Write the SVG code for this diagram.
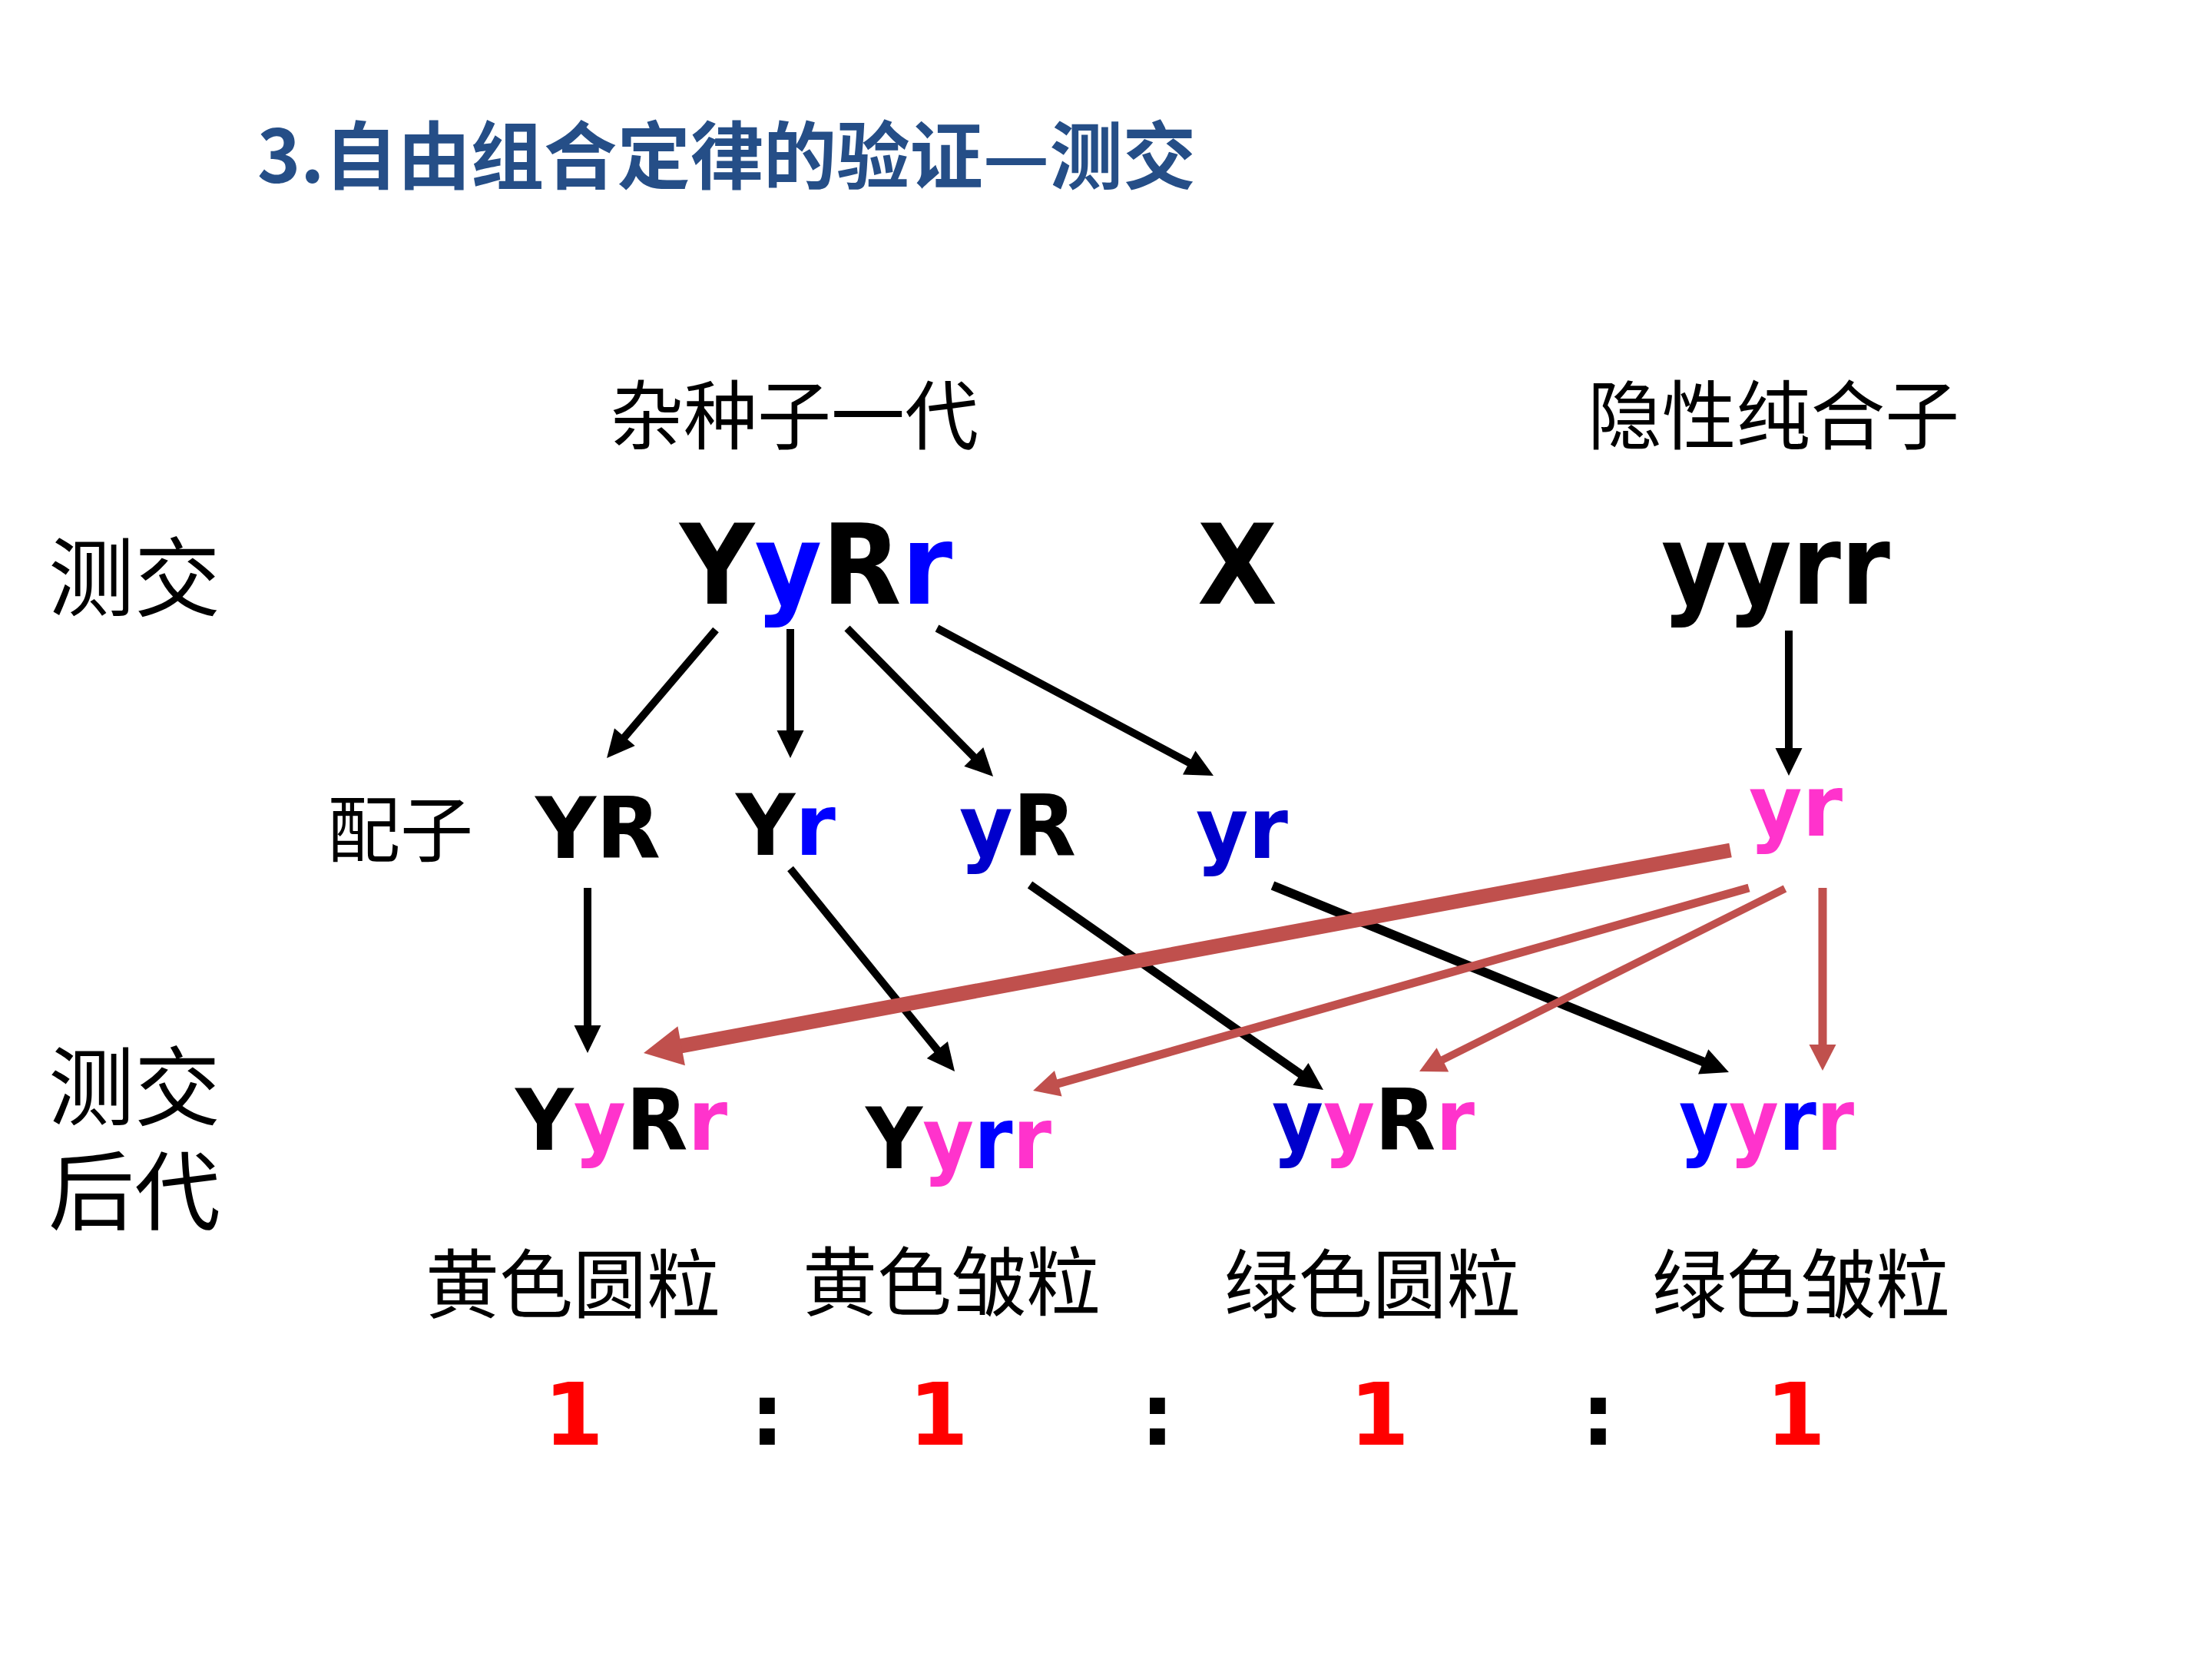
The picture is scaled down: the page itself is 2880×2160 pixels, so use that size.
<svg xmlns="http://www.w3.org/2000/svg" width="2880" height="2160" viewBox="0 0 2880 2160">
<style>
.cjk{font-family:"Noto Sans CJK SC","Noto Sans",sans-serif;fill:#000}
.title{font-family:"Noto Sans CJK SC","Noto Sans",sans-serif;font-weight:700;fill:#254E87}
.g{font-family:"DejaVu Sans","Liberation Sans",sans-serif;font-weight:700;fill:#000}
.big{font-size:145px}
.mid{font-size:110px}
.off{font-size:111px}
.b{fill:#0000FF}
.db{fill:#0000CC}
.p{fill:#FF33CC}
.red{fill:#FF0000}
.k{stroke:#000;fill:none;stroke-linecap:butt}
.rd{stroke:#C0504D;fill:none;stroke-linecap:butt}
</style>
<defs>
<marker id="ak" markerUnits="userSpaceOnUse" markerWidth="36" markerHeight="35" refX="18" refY="17.5" orient="auto" overflow="visible">
<path d="M0,0 L36,17.5 L0,35 Z" fill="#000"/>
</marker>
<marker id="ar" markerUnits="userSpaceOnUse" markerWidth="34" markerHeight="35" refX="17" refY="17.5" orient="auto" overflow="visible">
<path d="M0,0 L34,17.5 L0,35 Z" fill="#C0504D"/>
</marker>
<marker id="arb" markerUnits="userSpaceOnUse" markerWidth="50" markerHeight="52" refX="25" refY="26" orient="auto" overflow="visible">
<path d="M0,0 L50,26 L0,52 Z" fill="#C0504D"/>
</marker>
</defs>
<rect width="2880" height="2160" fill="#fff"/>

<g id="title">
<text class="title" x="335" y="238" font-size="96" textLength="1222" lengthAdjust="spacingAndGlyphs">3.自由组合定律的验证—测交</text>
</g>

<g id="labels">
<text class="cjk" x="63" y="794" font-size="112" textLength="224" lengthAdjust="spacingAndGlyphs">测交</text>
<text class="cjk" x="63" y="1457" font-size="112" textLength="224" lengthAdjust="spacingAndGlyphs">测交</text>
<text class="cjk" x="63" y="1593" font-size="112" textLength="224" lengthAdjust="spacingAndGlyphs">后代</text>
<text class="cjk" x="426" y="1115" font-size="94" textLength="190" lengthAdjust="spacingAndGlyphs">配子</text>
</g>

<g id="parent1-label"><text class="cjk" x="794" y="577" font-size="98" textLength="480" lengthAdjust="spacingAndGlyphs">杂种子一代</text></g>
<g id="parent2-label"><text class="cjk" x="2067" y="577" font-size="98" textLength="484" lengthAdjust="spacingAndGlyphs">隐性纯合子</text></g>

<g id="parent1"><text class="g big" x="885" y="786" textLength="355" lengthAdjust="spacingAndGlyphs">Y<tspan class="b">y</tspan>R<tspan class="b">r</tspan></text></g>
<g id="cross"><text class="g big" x="1559" y="786" textLength="104" lengthAdjust="spacingAndGlyphs">X</text></g>
<g id="parent2"><text class="g big" x="2163" y="786" textLength="298" lengthAdjust="spacingAndGlyphs">yyrr</text></g>

<g id="gamete-YR"><text class="g mid" x="697" y="1117" textLength="163" lengthAdjust="spacingAndGlyphs">YR</text></g>
<g id="gamete-Yr"><text class="g mid" x="958" y="1113" textLength="130" lengthAdjust="spacingAndGlyphs">Y<tspan class="b">r</tspan></text></g>
<g id="gamete-yR"><text class="g mid" x="1249" y="1114" textLength="152" lengthAdjust="spacingAndGlyphs"><tspan class="db">y</tspan>R</text></g>
<g id="gamete-yr"><text class="g mid db" x="1557" y="1117" textLength="120" lengthAdjust="spacingAndGlyphs">yr</text></g>
<g id="gamete-yr2"><text class="g mid p" x="2277" y="1088" textLength="122" lengthAdjust="spacingAndGlyphs">yr</text></g>

<g id="off-YyRr"><text class="g off" x="671" y="1497" textLength="276" lengthAdjust="spacingAndGlyphs">Y<tspan class="p">y</tspan>R<tspan class="p">r</tspan></text></g>
<g id="off-Yyrr"><text class="g off" x="1127" y="1521" textLength="242" lengthAdjust="spacingAndGlyphs">Y<tspan class="p">y</tspan><tspan class="b">r</tspan><tspan class="p">r</tspan></text></g>
<g id="off-yyRr"><text class="g off" x="1656" y="1497" textLength="264" lengthAdjust="spacingAndGlyphs"><tspan class="db">y</tspan><tspan class="p">y</tspan>R<tspan class="p">r</tspan></text></g>
<g id="off-yyrr"><text class="g off" x="2186" y="1497" textLength="228" lengthAdjust="spacingAndGlyphs"><tspan class="b">y</tspan><tspan class="p">y</tspan><tspan class="b">r</tspan><tspan class="p">r</tspan></text></g>

<g id="phenotypes">
<text class="cjk" x="554" y="1708" font-size="98" textLength="384" lengthAdjust="spacingAndGlyphs">黄色圆粒</text>
<text class="cjk" x="1045" y="1705" font-size="98" textLength="388" lengthAdjust="spacingAndGlyphs">黄色皱粒</text>
<text class="cjk" x="1594" y="1708" font-size="98" textLength="386" lengthAdjust="spacingAndGlyphs">绿色圆粒</text>
<text class="cjk" x="2151" y="1708" font-size="98" textLength="388" lengthAdjust="spacingAndGlyphs">绿色皱粒</text>
</g>

<g id="ratio" font-size="112" text-anchor="middle">
<text class="g red" x="747" y="1881">1</text>
<text class="g" x="999" y="1881">:</text>
<text class="g red" x="1222" y="1881">1</text>
<text class="g" x="1507" y="1881">:</text>
<text class="g red" x="1796" y="1881">1</text>
<text class="g" x="2081" y="1881">:</text>
<text class="g red" x="2338" y="1881">1</text>
</g>

<g id="connectors">
<line class="k" x1="932" y1="820" x2="801.7" y2="973.3" stroke-width="10" marker-end="url(#ak)"/>
<line class="k" x1="1029" y1="819" x2="1029" y2="969" stroke-width="10" marker-end="url(#ak)"/>
<line class="k" x1="1103" y1="818" x2="1280.4" y2="998.2" stroke-width="10" marker-end="url(#ak)"/>
<line class="k" x1="1220" y1="818" x2="1564.1" y2="1001.5" stroke-width="10" marker-end="url(#ak)"/>
<line class="k" x1="2329" y1="821" x2="2329" y2="992" stroke-width="10" marker-end="url(#ak)"/>
<line class="k" x1="765" y1="1156" x2="765" y2="1353" stroke-width="10" marker-end="url(#ak)"/>
<line class="k" x1="1029" y1="1131" x2="1231.7" y2="1381" stroke-width="10" marker-end="url(#ak)"/>
<line class="k" x1="1341" y1="1152" x2="1708.2" y2="1408.7" stroke-width="11" marker-end="url(#ak)"/>
<line class="k" x1="1657" y1="1153" x2="2234.3" y2="1389.2" stroke-width="12" marker-end="url(#ak)"/>
<line class="rd" x1="2253" y1="1107" x2="862.6" y2="1366.4" stroke-width="19" marker-end="url(#arb)"/>
<line class="rd" x1="2277" y1="1156" x2="1361.4" y2="1415.4" stroke-width="11" marker-end="url(#ar)"/>
<line class="rd" x1="2324" y1="1157" x2="1863.2" y2="1387.4" stroke-width="10" marker-end="url(#ar)"/>
<line class="rd" x1="2373" y1="1156" x2="2373" y2="1377" stroke-width="11" marker-end="url(#ar)"/>
</g>
</svg>
